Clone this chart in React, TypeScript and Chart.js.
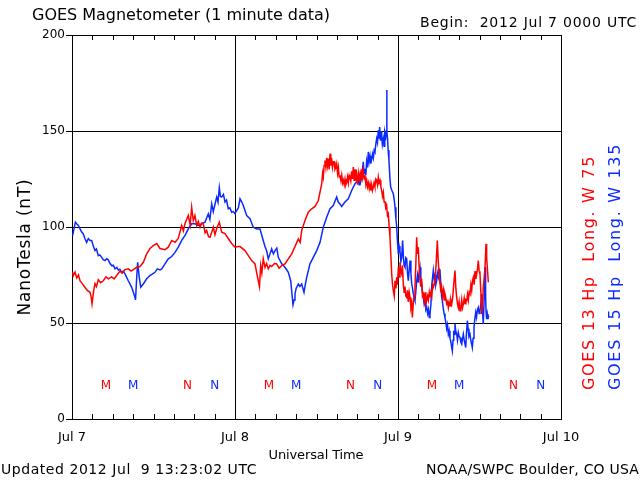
import React, { useEffect, useRef } from "react";
import { Chart, registerables } from "chart.js";

Chart.register(...registerables);

// ---- data (hours since 2012 Jul 7 00:00 UT, nT) ----
// GOES 13 (red)
const redHours = [
  0.1, 0.19, 0.45, 0.7, 0.95, 1.18, 1.5, 1.91, 2.25, 2.65, 2.8, 2.95, 3.2, 3.39, 3.6, 3.87, 4.2, 4.61, 5.0, 5.34,
  5.85, 6.2, 6.58, 7.07, 7.4, 7.8, 8.29, 8.7, 9.03, 9.53, 10.01, 10.5, 11.0, 11.48, 11.97, 12.47, 12.96,
  13.69, 14.18, 14.68, 15.17, 15.65, 16.15, 16.4, 16.64, 16.9, 17.12, 17.4, 17.62, 17.86, 18.1, 18.36, 18.6,
  18.85, 19.1, 19.33, 19.6, 19.83, 20.1, 20.32, 20.55, 20.81, 21.05, 21.31, 21.69, 22.04, 22.53, 23.01, 23.51,
  24.0, 24.49, 24.74, 25.47, 25.96, 26.46, 26.95, 27.2, 27.43, 27.6, 27.78, 27.95, 28.16, 28.42, 28.65, 28.9,
  29.15, 29.4, 29.8, 30.14, 30.5, 30.88, 31.36, 31.85, 32.35, 32.83, 33.32, 33.6, 33.82, 34.31, 34.79, 35.29,
  35.78, 36.27, 36.77, 36.9, 37.0, 37.12, 37.25, 37.38, 37.5, 37.62, 37.74, 37.86, 37.99, 38.1, 38.22, 38.35,
  38.47, 38.6, 38.72, 38.85, 38.97, 39.1, 39.22, 39.34, 39.46, 39.6, 39.72, 39.85, 39.95, 40.08, 40.2, 40.33,
  40.45, 40.57, 40.69, 40.81, 40.93, 41.05, 41.17, 41.3, 41.42, 41.55, 41.67, 41.8, 41.92, 42.05, 42.17,
  42.29, 42.41, 42.53, 42.65, 42.77, 42.89, 43.02, 43.14, 43.27, 43.39, 43.51, 43.63, 43.76, 43.88, 44.0,
  44.12, 44.24, 44.36, 44.48, 44.6, 44.74, 44.86, 44.98, 45.1, 45.22, 45.35, 45.47, 45.6, 45.72, 45.84,
  45.96, 46.09, 46.2, 46.33, 46.45, 46.57, 46.7, 46.82, 46.95, 47.07, 47.2, 47.31, 47.45, 47.56, 47.7,
  47.81, 47.93, 48.05, 48.17, 48.29, 48.42, 48.54, 48.66, 48.78, 48.9, 49.03, 49.15, 49.28, 49.4, 49.52,
  49.65, 49.77, 49.9, 50.02, 50.11, 50.25, 50.38, 50.5, 50.62, 50.75, 50.87, 50.99, 51.1, 51.24, 51.36,
  51.48, 51.6, 51.73, 51.85, 51.98, 52.1, 52.23, 52.36, 52.48, 52.6, 52.71, 52.85, 52.98, 53.1, 53.2,
  53.33, 53.45, 53.6, 53.79, 53.93, 54.08, 54.2, 54.32, 54.43, 54.55, 54.68, 54.8, 54.92, 55.05, 55.17,
  55.29, 55.41, 55.53, 55.66, 55.78, 55.91, 56.05, 56.2, 56.39, 56.52, 56.64, 56.76, 56.88, 57.0, 57.13,
  57.26, 57.38, 57.5, 57.62, 57.75, 57.88, 58.0, 58.11, 58.24, 58.36, 58.48, 58.6, 58.73, 58.85, 58.97,
  59.09, 59.22, 59.34, 59.47, 59.59, 59.7, 59.82, 59.95, 60.07, 60.2, 60.32, 60.44, 60.56, 60.7, 60.83,
  60.96, 61.05, 61.15, 61.3,
];
const redValues = [
  76.4, 74.7, 76.5, 73.5, 75, 72, 70.5, 68.6, 67, 66, 64, 60, 67, 70.5, 69, 72.6, 71, 72, 74, 73,
  74, 73, 74.7, 77, 76, 77.8, 78.2, 77, 77.8, 79, 79.4, 81.6, 86, 88.8, 90.3, 91.4, 88.8,
  88.2, 89.5, 93, 92, 94, 100.8, 98, 101.8, 104, 106, 101, 110.3, 103.4, 106, 100.8, 103,
  99.9, 102, 101.8, 97, 98.2, 95, 94.7, 97, 99.9, 96, 99.2, 102.5, 97.3, 96.6, 94, 91.4,
  89.5, 89.8, 89.8, 87.7, 85.1, 82.5, 80.8, 76, 72, 69, 79.9, 76, 83.5, 79, 81, 78.2,
  80, 79.4, 81, 80.8, 78.5, 79.9, 80.8, 83.4, 86, 89.8, 93.8, 92, 98.2, 103.4, 107.7, 109.5,
  110.7, 113.8, 122.6, 128, 126, 132, 134.7, 131, 136, 132, 135.6, 130, 138.2, 132, 136, 131,
  133.9, 134, 130, 131, 133, 128, 131, 126, 126.9, 124, 127, 123, 124.3, 122, 125, 122,
  123.4, 126, 123, 127, 126, 124, 129, 125, 131.2, 124, 130, 124, 126.9, 122, 128,
  125, 127.8, 124, 130, 126, 129.5, 125, 127, 122, 124.3, 121, 123, 120, 122.5, 119,
  122, 119, 120.8, 123, 121, 125, 124.3, 122, 126, 123, 124.3, 121, 119, 116, 118,
  113, 113, 110, 111, 106, 106.9, 100, 94.7, 85, 75.6, 70, 66.8, 64, 72, 68,
  73.8, 70, 79, 74, 81.6, 77, 75.6, 80, 70.3, 66, 69, 64, 63.3, 67, 61,
  66, 63.3, 58, 60, 52.9, 60, 64, 68.6, 80, 94.7, 86, 89.5, 80, 72, 69,
  73, 64, 65.1, 62, 66, 60, 61.6, 64, 62, 66, 63.3, 66, 64, 70, 68.6,
  70, 72, 80, 93, 82, 73.8, 70, 66, 68.6, 64, 67, 62, 65.1, 63, 60,
  61, 58.1, 61, 59, 62, 59.9, 63, 70, 77.3, 68, 63.3, 60, 58, 61, 56.4,
  58, 62, 58, 59.9, 63, 60, 62, 61.6, 65, 62, 66, 65.1, 70, 67, 72,
  73.8, 70, 77, 73, 75.6, 78, 82.5, 77, 75.6, 66, 54.7, 60, 68.6, 74, 80,
  91.2, 84, 79, 71.2,
];
// GOES 15 (blue)
const blueHours = [
  0.1, 0.29, 0.5, 0.69, 0.93, 1.18, 1.4, 1.66, 1.9, 2.16, 2.4, 2.65, 2.9, 3.15, 3.39, 3.6, 3.87, 4.1, 4.37,
  4.6, 4.86, 5.1, 5.34, 5.6, 5.85, 6.1, 6.33, 6.6, 6.82, 7.05, 7.32, 7.55, 7.8, 8.29, 8.79, 9.28, 9.35, 9.53,
  9.67, 9.87, 10.12, 10.5, 11.0, 11.48, 12.22, 12.56, 12.96, 13.21, 13.69, 14.18, 14.68, 15.17, 15.65,
  16.15, 16.64, 17.12, 17.62, 18.11, 18.6, 19.1, 19.58, 20.07, 20.3, 20.57, 20.8, 21.06, 21.31, 21.5, 21.69,
  21.85, 22.04, 22.3, 22.53, 22.75, 23.01, 23.25, 23.51, 23.75, 24.0, 24.25, 24.5, 24.74, 25.0, 25.22,
  25.72, 26.21, 26.69, 27.19, 27.68, 28.16, 28.4, 28.66, 28.9, 29.15, 29.4, 29.65, 29.89, 30.15, 30.38,
  30.88, 31.36, 31.85, 32.2, 32.44, 32.54, 32.7, 32.83, 33.0, 33.32, 33.55, 33.82, 34.0, 34.16, 34.35,
  34.56, 35.04, 35.53, 36.03, 36.52, 37.0, 37.5, 37.99, 38.47, 38.97, 39.2, 39.46, 39.71, 40.19, 40.68,
  41.18, 41.67, 42.15, 42.27, 42.4, 42.53, 42.66, 42.78, 42.89, 43.0, 43.14, 43.26, 43.38, 43.5, 43.63,
  43.75, 43.88, 44.0, 44.13, 44.25, 44.37, 44.49, 44.61, 44.73, 44.86, 44.98, 45.1, 45.2, 45.3, 45.42,
  45.52, 45.6, 45.7, 45.84, 45.95, 46.05, 46.2, 46.3, 46.34, 46.38, 46.46, 46.55, 46.67, 46.8, 46.92,
  47.1, 47.31, 47.45, 47.56, 47.7, 47.81, 47.93, 48.05, 48.17, 48.29, 48.42, 48.54, 48.68, 48.8, 48.9,
  49.03, 49.15, 49.28, 49.4, 49.52, 49.65, 49.77, 49.9, 50.02, 50.14, 50.26, 50.38, 50.5, 50.62, 50.75,
  50.87, 50.99, 51.11, 51.24, 51.36, 51.48, 51.6, 51.73, 51.85, 51.98, 52.1, 52.23, 52.36, 52.48, 52.61,
  52.71, 52.85, 52.98, 53.1, 53.2, 53.32, 53.45, 53.57, 53.69, 53.81, 53.94, 54.06, 54.18, 54.3, 54.42,
  54.52, 54.65, 54.78, 54.92, 55.05, 55.17, 55.29, 55.41, 55.53, 55.65, 55.76, 55.88, 56.0, 56.1, 56.2,
  56.3, 56.39, 56.5, 56.64, 56.76, 56.88, 57.0, 57.13, 57.25, 57.38, 57.5, 57.62, 57.75, 57.87, 57.97,
  58.09, 58.21, 58.33, 58.45, 58.6, 58.72, 58.84, 58.94, 59.06, 59.19, 59.31, 59.44, 59.56, 59.7, 59.82,
  59.95, 60.07, 60.2, 60.32, 60.44, 60.56, 60.68, 60.81, 60.9, 60.96, 61.05, 61.15, 61.25, 61.35,
];
const blueValues = [
  95.6, 99, 102.5, 101.7, 100.8, 99, 97.5, 96.4, 94, 92, 94, 93, 93, 90, 87.7, 88.5, 85.1, 85.5, 84.2,
  83, 82.5, 83.5, 82.9, 81, 79.9, 80, 78.2, 79, 77.6, 78, 76.4, 77, 75.6, 72, 68.6, 63.3, 62, 73.8,
  81.6, 74.7, 68.6, 70.3, 73, 74.7, 76.4, 78.2, 77.6, 78.2, 80.8, 83.4, 84.6, 86.8, 89.5,
  93, 95.6, 99, 101.7, 101.7, 100.8, 101.7, 102.5, 106.9, 104, 112, 108, 112, 115.6, 113, 120.5,
  116, 115.6, 117, 113, 114, 109.5, 110, 107.7, 108, 106.9, 108.6, 110, 114.7, 113, 111.2,
  106, 104.3, 99.9, 99, 99, 93, 90, 87.7, 83.4, 86, 88.6, 86, 87.7, 89, 84.2,
  80.8, 79, 76.4, 72, 63.3, 59.5, 62, 65.1, 68, 70.3, 69, 70.3, 68, 66, 70,
  73.8, 80.8, 84.2, 87.7, 92, 99.9, 105.1, 109.5, 111.2, 115.6, 113, 112, 110.7, 113, 114.7,
  119, 122.6, 124.3, 122, 127, 124, 126, 130, 133.9, 128, 130.4, 127, 134, 131, 139.1,
  134, 137, 133, 135.6, 138, 136, 140, 139.1, 143, 146, 144, 150.4, 146, 152.1, 145,
  150, 147.8, 143, 146, 142, 149.5, 147, 150, 171.3, 150, 146, 140, 134.7, 126, 120.8,
  119, 117.3, 114, 110.3, 104, 100, 92, 86, 90, 87.7, 82, 84.2, 93, 84, 80,
  79, 84, 83.4, 76, 72, 78, 82.5, 76, 70.3, 68, 65, 63, 61.6, 66, 72,
  75, 71, 76, 79, 74, 70.3, 66, 63.3, 60, 62, 57, 58.1, 55, 57, 52.9,
  54.7, 60, 70, 74, 77.3, 73, 75, 70, 72, 76, 74, 78, 77.3, 70, 64,
  61.6, 58, 55, 52.9, 50, 47, 49, 44.2, 46, 42, 40.7, 38, 35.5, 41, 46,
  44, 49.5, 46, 44.2, 41, 45, 43, 42.5, 40, 39, 42, 44.2, 41, 39, 37.2,
  45, 51.2, 47, 43, 44.2, 41, 39, 37.2, 42, 47.7, 52, 55.5, 53, 57, 58.1,
  55, 56.4, 60, 65.1, 56, 49.5, 62, 79, 64, 56.4, 52, 54.7, 52, 53.8,
];

const xTickHours = [0, 24, 48, 72];
const xTickLabels = ["Jul 7", "Jul 8", "Jul 9", "Jul 10"];
const yTickValues = [0, 50, 100, 150, 200];

// local midnight (M) / noon (N) markers; 0 = GOES 13, 1 = GOES 15
const markerHours = [5, 9, 17, 21, 29, 33, 41, 45, 53, 57, 65, 69];
const markerLetters = ["M", "M", "N", "N", "M", "M", "N", "N", "M", "M", "N", "N"];
const markerSat = [0, 1, 0, 1, 0, 1, 0, 1, 0, 1, 0, 1];
const markerLevel = 17;

const seriesNames = ["GOES 13 Hp  Long. W 75", "GOES 15 Hp  Long. W 135"];
const titleText = "GOES Magnetometer (1 minute data)";
const beginText = "Begin:  2012 Jul 7 0000 UTC";
const updatedText = "Updated 2012 Jul  9 13:23:02 UTC";
const creditText = "NOAA/SWPC Boulder, CO USA";
const yTitle = "NanoTesla (nT)";
const xTitle = "Universal Time";

const RED = "#ff0000";
const BLUE = "#0a2aff";
const seriesColors = [RED, BLUE];
const FONT = '"DejaVu Sans"';

function drawText(
  ctx: CanvasRenderingContext2D,
  s: string,
  x: number,
  y: number,
  size: number,
  color: string,
  align: CanvasTextAlign,
  width?: number
) {
  ctx.font = `${size}px ${FONT}`;
  ctx.fillStyle = color;
  ctx.textAlign = align;
  ctx.textBaseline = "alphabetic";
  const anyCtx = ctx as any;
  if (width) {
    anyCtx.letterSpacing = "0px";
    const w = ctx.measureText(s).width;
    anyCtx.letterSpacing = `${(width - w) / s.length}px`;
  }
  ctx.fillText(s, x, y);
  anyCtx.letterSpacing = "0px";
}

const overlay = {
  id: "overlay",
  afterDraw(chart: any) {
    const ctx: CanvasRenderingContext2D = chart.ctx;
    const xs = chart.scales.x;
    const ys = chart.scales.y;
    const { top, bottom } = chart.chartArea;
    ctx.save();
    // minor 3-hour ticks, inward on bottom and top
    ctx.strokeStyle = "#000";
    ctx.lineWidth = 1;
    ctx.beginPath();
    for (let h = 3; h < 72; h += 3) {
      if (h % 24 === 0) continue;
      const px = Math.round(xs.getPixelForValue(h)) + 0.5;
      ctx.moveTo(px, bottom);
      ctx.lineTo(px, bottom - 5);
      ctx.moveTo(px, top);
      ctx.lineTo(px, top + 5);
    }
    ctx.stroke();

    // M / N markers
    markerHours.forEach((h, i) => {
      const px = xs.getPixelForValue(h);
      const py = ys.getPixelForValue(markerLevel);
      ctx.font = `12px ${FONT}`;
      ctx.fillStyle = seriesColors[markerSat[i]];
      ctx.textAlign = "center";
      ctx.textBaseline = "middle";
      ctx.fillText(markerLetters[i], px, py);
    });

    // texts
    drawText(ctx, titleText, 32, 20, 16, "#000", "left", 298);
    drawText(ctx, beginText, 637, 27, 14, "#000", "right", 217);
    drawText(ctx, xTitle, 316, 459, 13, "#000", "center", 95);
    drawText(ctx, updatedText, 1, 474, 14, "#000", "left", 256);
    drawText(ctx, creditText, 639, 474, 14, "#000", "right", 213);

    ctx.save();
    ctx.translate(30, 247);
    ctx.rotate(-Math.PI / 2);
    drawText(ctx, yTitle, 0, 0, 17, "#000", "center", 137);
    ctx.restore();

    const rightX = [594, 620];
    const rightW = [235, 247];
    seriesNames.forEach((name, i) => {
      ctx.save();
      ctx.translate(rightX[i], 390);
      ctx.rotate(-Math.PI / 2);
      drawText(ctx, name, 0, 0, 16, seriesColors[i], "left", rightW[i]);
      ctx.restore();
    });
    ctx.restore();
  },
};

export default function App() {
  const ref = useRef<HTMLCanvasElement | null>(null);

  useEffect(() => {
    if (!ref.current) return;
    const chart = new Chart(ref.current, {
      type: "line",
      data: {
        datasets: [
          {
            label: seriesNames[0],
            data: redHours.map((h, i) => ({ x: h, y: redValues[i] })),
            borderColor: RED,
            borderWidth: 1.5,
            pointRadius: 0,
            tension: 0,
            fill: false,
          },
          {
            label: seriesNames[1],
            data: blueHours.map((h, i) => ({ x: h, y: blueValues[i] })),
            borderColor: BLUE,
            borderWidth: 1.5,
            pointRadius: 0,
            tension: 0,
            fill: false,
          },
        ],
      },
      options: {
        animation: false,
        responsive: false,
        maintainAspectRatio: false,
        devicePixelRatio: 1,
        layout: { padding: { left: 0, right: 79, top: 35, bottom: 0 } },
        plugins: {
          legend: { display: false },
          title: { display: false },
          tooltip: { enabled: false },
        },
        scales: {
          x: {
            type: "linear",
            min: 0,
            max: 72,
            afterBuildTicks: (scale: any) => {
              scale.ticks = xTickHours.map((v) => ({ value: v }));
            },
            afterFit: (scale: any) => {
              scale.height = 61;
            },
            ticks: {
              autoSkip: false,
              maxRotation: 0,
              padding: 11,
              color: "#000",
              font: { family: "DejaVu Sans", size: 13 },
              callback: (v: any) => xTickLabels[xTickHours.indexOf(Number(v))] ?? "",
            },
            grid: { color: "#000", lineWidth: 1, drawTicks: false },
            border: { display: true, color: "#000", width: 1 },
          },
          y: {
            type: "linear",
            min: 0,
            max: 200,
            afterBuildTicks: (scale: any) => {
              scale.ticks = yTickValues.map((v) => ({ value: v }));
            },
            afterFit: (scale: any) => {
              scale.width = 72;
            },
            ticks: {
              padding: 1,
              color: "#000",
              font: { family: "DejaVu Sans", size: 12 },
            },
            grid: { color: "#000", lineWidth: 1, drawTicks: true, tickLength: 6 },
            border: { display: true, color: "#000", width: 1 },
          },
        },
      },
      plugins: [overlay],
    });
    return () => chart.destroy();
  }, []);

  return (
    <div style={{ position: "fixed", left: 0, top: 0, width: 640, height: 480, background: "#fff" }}>
      <canvas ref={ref} width={640} height={480} style={{ display: "block" }} />
    </div>
  );
}
